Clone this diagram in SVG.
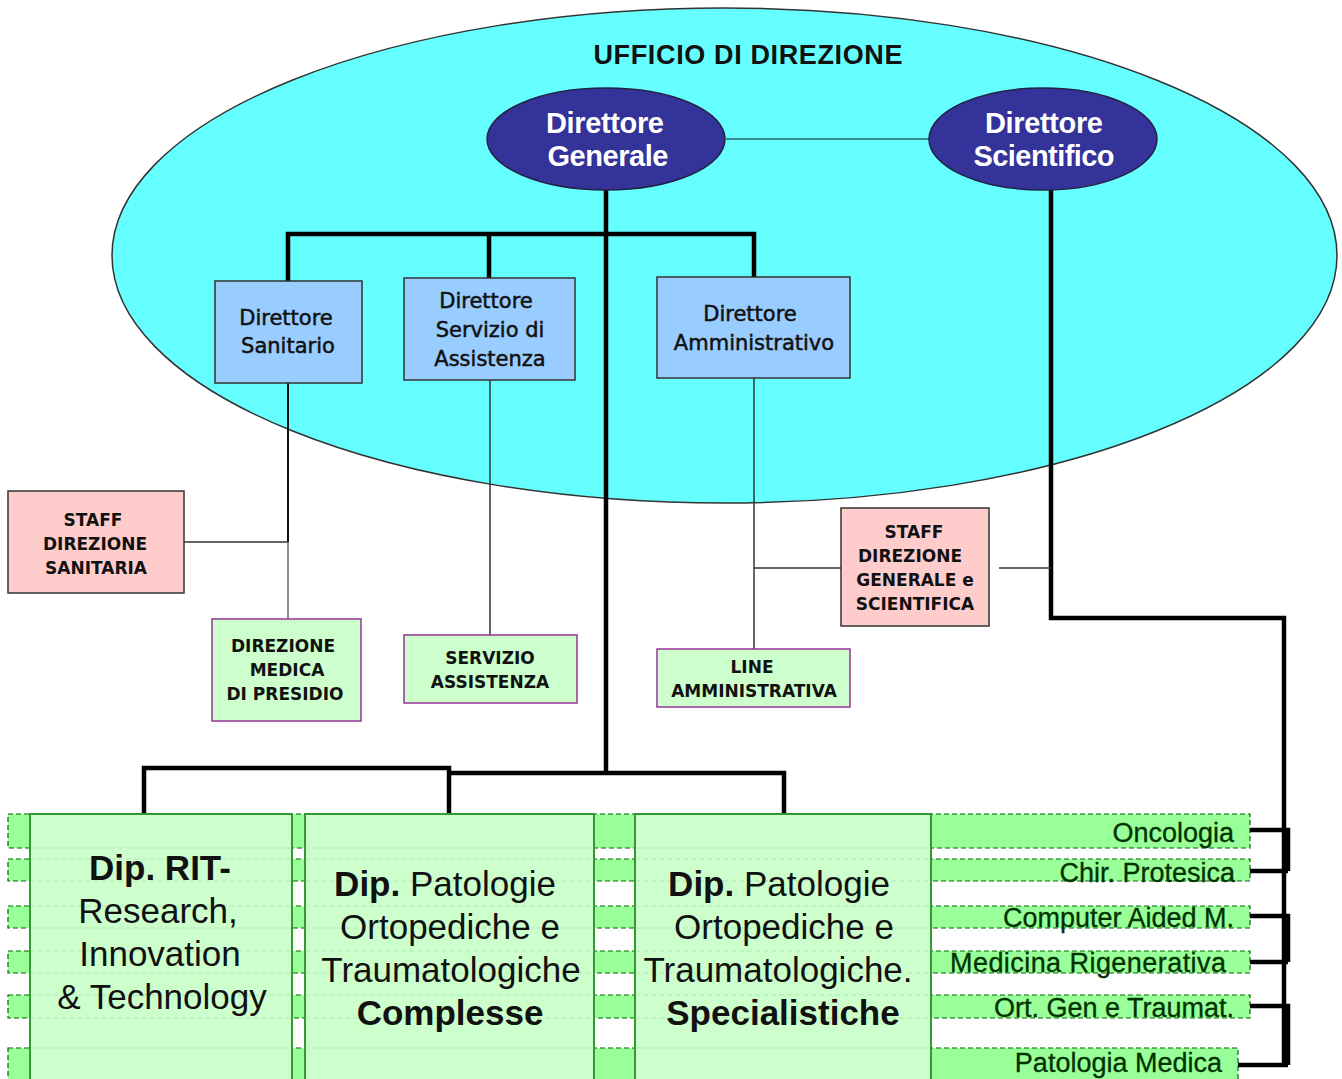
<svg xmlns="http://www.w3.org/2000/svg" width="1342" height="1079" viewBox="0 0 1342 1079">
  <style>
    .sans { font-family: "DejaVu Sans", "Liberation Sans", sans-serif; }
    .arial { font-family: "Liberation Sans", Arial, sans-serif; }
    .dir { fill: #333399; stroke: #222244; stroke-width: 1.5; }
    .dirtxt { font-family: "Liberation Sans", Arial, sans-serif; font-weight: bold; font-size: 29px; fill: #ffffff; text-anchor: middle; }
    .box { fill: #99ccff; stroke: #333333; stroke-width: 1.5; }
    .boxtxt { font-family: "DejaVu Sans", sans-serif; font-size: 21px; fill: #111111; stroke: #111111; stroke-width: 0.5; text-anchor: middle; }
    .staff { fill: #ffcccc; stroke: #333333; stroke-width: 1.5; }
    .line { fill: #ccffcc; stroke: #993399; stroke-width: 1.5; }
    .captxt { font-family: "DejaVu Sans", sans-serif; font-weight: bold; font-size: 17px; fill: #111111; text-anchor: middle; }
    .band { fill: #99ff99; stroke: #006600; stroke-width: 1.2; stroke-dasharray: 5 3; }
    .dep { fill: #ccffcc; stroke: #339933; stroke-width: 2; }
    .faint { fill: none; stroke: #88bb88; stroke-width: 1; stroke-dasharray: 5 3; opacity: 0.35; }
    .deptxt { font-family: "Liberation Sans", Arial, sans-serif; font-size: 35px; fill: #111111; text-anchor: middle; }
    .bandtxt { font-family: "Liberation Sans", Arial, sans-serif; font-size: 27px; fill: #003300; stroke: #003300; stroke-width: 0.3; text-anchor: end; }
    .thick { fill: none; stroke: #000000; stroke-width: 4.5; }
    .thin { fill: none; stroke: #333333; stroke-width: 1.5; }
  </style>

  <!-- Ufficio di direzione -->
  <g id="ufficio">
    <ellipse cx="724.5" cy="255.5" rx="612.5" ry="247.5" fill="#66ffff" stroke="#333333" stroke-width="1.5"/>
    <text x="748" y="64" class="arial" font-weight="bold" font-size="27" fill="#111111" text-anchor="middle" textLength="309">UFFICIO DI DIREZIONE</text>
  </g>

  <!-- Department bands (background rows) -->
  <g id="bands">
    <rect class="band" x="8" y="814" width="1242" height="34"/>
    <rect class="band" x="8" y="859" width="1242" height="22"/>
    <rect class="band" x="8" y="906" width="1242" height="22"/>
    <rect class="band" x="8" y="951" width="1242" height="22"/>
    <rect class="band" x="8" y="995" width="1242" height="23"/>
    <rect class="band" x="8" y="1048" width="1230" height="40"/>
  </g>

  <!-- Connectors -->
  <g id="connectors">
    <line x1="726" y1="139" x2="929" y2="139" stroke="#336666" stroke-width="1.5"/>
    <path class="thick" d="M606,190 V773"/>
    <path class="thick" d="M288,281 V234 H754 V277"/>
    <path class="thick" d="M489,278 V234"/>
    <path class="thick" d="M144,814 V768 H449 V814"/>
    <path class="thick" d="M449,773 H784 V814"/>
    <path class="thick" d="M1051,190 V618 H1284 V1067"/>
    <path class="thick" d="M1250,830 H1288 V871 M1250,871 H1288"/>
    <path class="thick" d="M1250,916 H1288 V962 M1250,962 H1288"/>
    <path class="thick" d="M1250,1006 H1288 V1065 M1238,1065 H1288"/>
    <path d="M288,383 V542" fill="none" stroke="#111111" stroke-width="2"/>
    <path class="thin" d="M184,542 H288"/>
    <path d="M288,542 V619" fill="none" stroke="#666666" stroke-width="1.5"/>
    <path class="thin" d="M490,380 V635"/>
    <path class="thin" d="M754,378 V649"/>
    <path class="thin" d="M754,568 H841"/>
    <path class="thin" d="M999,568 H1051"/>
  </g>

  <!-- Directors -->
  <g id="direttore-generale">
    <ellipse class="dir" cx="606" cy="139" rx="119" ry="51"/>
    <text class="dirtxt" x="605" y="133" textLength="118">Direttore</text>
    <text class="dirtxt" x="608" y="166" textLength="121">Generale</text>
  </g>
  <g id="direttore-scientifico">
    <ellipse class="dir" cx="1043" cy="139" rx="114" ry="51"/>
    <text class="dirtxt" x="1044" y="133" textLength="118">Direttore</text>
    <text class="dirtxt" x="1044" y="166" textLength="141">Scientifico</text>
  </g>

  <g id="direttore-sanitario">
    <rect class="box" x="215" y="281" width="147" height="102"/>
    <text class="boxtxt" x="286" y="325">Direttore</text>
    <text class="boxtxt" x="288" y="353">Sanitario</text>
  </g>
  <g id="direttore-servizio-assistenza">
    <rect class="box" x="404" y="278" width="171" height="102"/>
    <text class="boxtxt" x="486" y="308">Direttore</text>
    <text class="boxtxt" x="490" y="337">Servizio di</text>
    <text class="boxtxt" x="490" y="366">Assistenza</text>
  </g>
  <g id="direttore-amministrativo">
    <rect class="box" x="657" y="277" width="193" height="101"/>
    <text class="boxtxt" x="750" y="321">Direttore</text>
    <text class="boxtxt" x="754" y="350">Amministrativo</text>
  </g>

  <!-- Staff and line offices -->
  <g id="staff-sanitaria">
    <rect class="staff" x="8" y="491" width="176" height="102"/>
    <text class="captxt" x="93" y="526">STAFF</text>
    <text class="captxt" x="95" y="550">DIREZIONE</text>
    <text class="captxt" x="96" y="574">SANITARIA</text>
  </g>
  <g id="staff-generale-scientifica">
    <rect class="staff" x="841" y="508" width="148" height="118"/>
    <text class="captxt" x="914" y="538">STAFF</text>
    <text class="captxt" x="910" y="562">DIREZIONE</text>
    <text class="captxt" x="915" y="586">GENERALE e</text>
    <text class="captxt" x="915" y="610">SCIENTIFICA</text>
  </g>
  <g id="direzione-medica">
    <rect class="line" x="212" y="619" width="149" height="102"/>
    <text class="captxt" x="283" y="652">DIREZIONE</text>
    <text class="captxt" x="287" y="676">MEDICA</text>
    <text class="captxt" x="285" y="700">DI  PRESIDIO</text>
  </g>
  <g id="servizio-assistenza">
    <rect class="line" x="404" y="635" width="173" height="68"/>
    <text class="captxt" x="490" y="664">SERVIZIO</text>
    <text class="captxt" x="490" y="688">ASSISTENZA</text>
  </g>
  <g id="line-amministrativa">
    <rect class="line" x="657" y="649" width="193" height="58"/>
    <text class="captxt" x="752" y="673">LINE</text>
    <text class="captxt" x="754" y="697">AMMINISTRATIVA</text>
  </g>

  <!-- Departments -->
  <g id="dip-rit">
    <rect class="dep" x="30" y="814" width="262" height="280"/>
    <path class="faint" d="M30,848 H292 M30,859 H292 M30,881 H292 M30,906 H292 M30,928 H292 M30,951 H292 M30,973 H292 M30,995 H292 M30,1018 H292 M30,1048 H292"/>
    <text class="deptxt" x="160" y="880" font-weight="bold">Dip. RIT-</text>
    <text class="deptxt" x="158" y="923">Research,</text>
    <text class="deptxt" x="160" y="966">Innovation</text>
    <text class="deptxt" x="162" y="1009">&amp; Technology</text>
  </g>
  <g id="dip-complesse">
    <rect class="dep" x="305" y="814" width="289" height="280"/>
    <path class="faint" d="M305,848 H594 M305,859 H594 M305,881 H594 M305,906 H594 M305,928 H594 M305,951 H594 M305,973 H594 M305,995 H594 M305,1018 H594 M305,1048 H594"/>
    <text class="deptxt" x="445" y="896"><tspan font-weight="bold">Dip.</tspan> Patologie</text>
    <text class="deptxt" x="450" y="939">Ortopediche e</text>
    <text class="deptxt" x="451" y="982">Traumatologiche</text>
    <text class="deptxt" x="450" y="1025" font-weight="bold">Complesse</text>
  </g>
  <g id="dip-specialistiche">
    <rect class="dep" x="635" y="814" width="296" height="280"/>
    <path class="faint" d="M635,848 H931 M635,859 H931 M635,881 H931 M635,906 H931 M635,928 H931 M635,951 H931 M635,973 H931 M635,995 H931 M635,1018 H931 M635,1048 H931"/>
    <text class="deptxt" x="779" y="896"><tspan font-weight="bold">Dip.</tspan> Patologie</text>
    <text class="deptxt" x="784" y="939">Ortopediche e</text>
    <text class="deptxt" x="778" y="982">Traumatologiche.</text>
    <text class="deptxt" x="783" y="1025" font-weight="bold">Specialistiche</text>
  </g>

  <!-- Research lines -->
  <g id="oncologia"><text class="bandtxt" x="1234" y="842">Oncologia</text></g>
  <g id="chir-protesica"><text class="bandtxt" x="1235" y="882">Chir. Protesica</text></g>
  <g id="computer-aided"><text class="bandtxt" x="1234" y="927">Computer Aided M.</text></g>
  <g id="medicina-rigenerativa"><text class="bandtxt" x="1226" y="972" textLength="276">Medicina Rigenerativa</text></g>
  <g id="ort-gen-traumat"><text class="bandtxt" x="1234" y="1017">Ort. Gen e Traumat.</text></g>
  <g id="patologia-medica"><text class="bandtxt" x="1222" y="1072">Patologia Medica</text></g>
</svg>
